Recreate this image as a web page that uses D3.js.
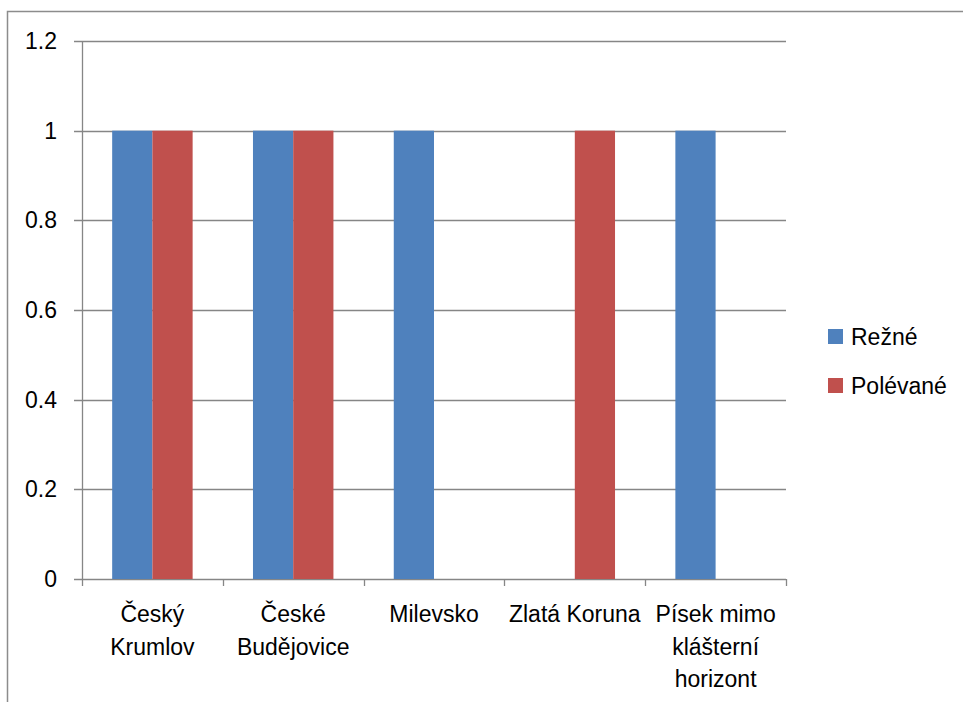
<!DOCTYPE html>
<html>
<head>
<meta charset="utf-8">
<script src="https://cdn.jsdelivr.net/npm/d3@7"></script>
<style>
  body { margin: 0; background: #fff; }
  text { font-family: "Liberation Sans", Arial, sans-serif; fill: #000; }
</style>
</head>
<body>
<div id="chart"></div>
<script>
// data
const categories = ["Český Krumlov", "České Budějovice", "Milevsko", "Zlatá Koruna", "Písek mimo klášterní horizont"];
const seriesNames = ["Režné", "Polévané"];
const rezne = [1, 1, 1, 0, 1];
const polevane = [1, 1, 0, 1, 0];
const yTicks = [0, 0.2, 0.4, 0.6, 0.8, 1, 1.2];
const colors = ["#4F81BD", "#C0504D"];

const W = 963, H = 702;
const margin = { top: 41, left: 82, right: 177, bottom: 123 };
const plotW = W - margin.left - margin.right;
const plotH = H - margin.top - margin.bottom;
const fontSize = "23px";

const svg = d3.select("#chart").append("svg")
    .attr("width", W)
    .attr("height", H);

// outer frame
svg.append("rect")
    .attr("x", 7.5).attr("y", 11.5)
    .attr("width", W).attr("height", H)
    .attr("fill", "none")
    .attr("stroke", "#8c8c8c")
    .attr("stroke-width", 1.5);

let g = svg.append("g")
    .attr("transform", "translate(" + margin.left + "," + margin.top + ")");

let x0 = d3.scaleBand().domain(categories).range([0, plotW]).padding(0);
let x1 = d3.scaleBand().domain(seriesNames).range([0, x0.bandwidth()])
    .paddingInner(0).paddingOuter(0.75);
let y = d3.scaleLinear().domain([0, 1.2]).range([plotH, 0]);

const gridColor = "#868686";

// gridlines
g.selectAll(".grid")
    .data(yTicks)
    .enter()
    .append("line")
    .attr("x1", -8)
    .attr("x2", plotW)
    .attr("y1", d => Math.round(y(d)) + 0.5)
    .attr("y2", d => Math.round(y(d)) + 0.5)
    .attr("stroke", gridColor)
    .attr("stroke-width", 1.3);

// y tick labels
g.selectAll(".ylab")
    .data(yTicks)
    .enter()
    .append("text")
    .attr("x", -25)
    .attr("y", d => y(d) + 8)
    .attr("text-anchor", "end")
    .style("font-size", fontSize)
    .text(d => d3.format("")(d));

// bars
let rows = categories.map((c, i) => ({ cat: c, vals: [rezne[i], polevane[i]] }));
let groups = g.selectAll(".grp")
    .data(rows)
    .enter()
    .append("g")
    .attr("transform", d => "translate(" + x0(d.cat) + ",0)");

groups.selectAll("rect")
    .data(d => d.vals.map((v, j) => ({ name: seriesNames[j], v: v, j: j })))
    .enter()
    .append("rect")
    .filter(d => d.v > 0)
    .attr("x", d => x1(d.name))
    .attr("width", x1.bandwidth())
    .attr("y", d => y(d.v))
    .attr("height", d => y(0) - y(d.v))
    .attr("fill", d => colors[d.j]);

// y axis line
g.append("line")
    .attr("x1", 0.5).attr("x2", 0.5)
    .attr("y1", 0).attr("y2", plotH)
    .attr("stroke", gridColor)
    .attr("stroke-width", 1.3);

// category ticks
let bounds = d3.range(categories.length + 1).map(i => i * x0.step());
g.selectAll(".xtick")
    .data(bounds)
    .enter()
    .append("line")
    .attr("x1", d => Math.round(d) + 0.5)
    .attr("x2", d => Math.round(d) + 0.5)
    .attr("y1", plotH)
    .attr("y2", plotH + 7)
    .attr("stroke", gridColor)
    .attr("stroke-width", 1.3);

// category labels, wrapped to band width
let xlabels = g.selectAll(".xlab")
    .data(categories)
    .enter()
    .append("text")
    .attr("text-anchor", "middle")
    .style("font-size", fontSize)
    .attr("transform", d => "translate(" + (x0(d) + x0.bandwidth() / 2) + "," + (plotH + 43) + ")");

xlabels.each(function(d) {
    let t = d3.select(this);
    let words = d.split(" ");
    let lines = [];
    let cur = [];
    words.forEach(w => {
        let test = cur.concat([w]).join(" ");
        t.text(test);
        if (cur.length && this.getComputedTextLength() > x0.bandwidth() - 2) {
            lines.push(cur.join(" "));
            cur = [w];
        } else {
            cur.push(w);
        }
    });
    lines.push(cur.join(" "));
    t.text(null);
    lines.forEach((l, i) => {
        t.append("tspan").attr("x", 0).attr("y", i * 32.5).text(l);
    });
});

// legend
let legend = svg.append("g")
    .attr("transform", "translate(828,329)");

seriesNames.forEach((s, i) => {
    legend.append("rect")
        .attr("x", 0).attr("y", i * 49)
        .attr("width", 15).attr("height", 15)
        .attr("fill", colors[i]);
    legend.append("text")
        .attr("x", 23).attr("y", i * 49 + 16)
        .style("font-size", fontSize)
        .text(s);
});
</script>
</body>
</html>
